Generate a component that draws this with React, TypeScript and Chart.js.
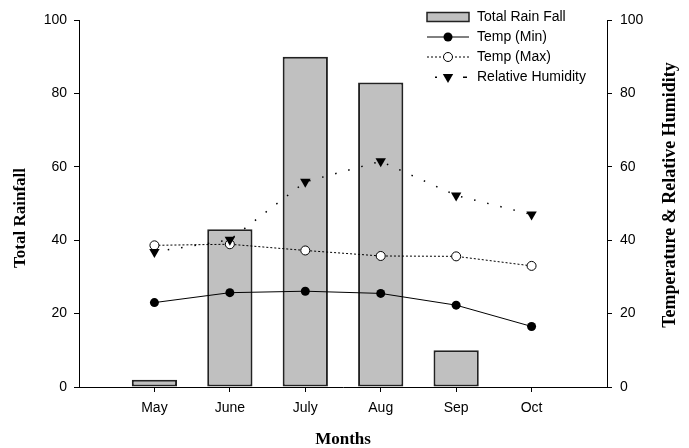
import React, { useEffect, useRef } from 'react';
import { Chart, registerables } from 'chart.js';

Chart.register(...registerables);

const months = ['May', 'June', 'July', 'Aug', 'Sep', 'Oct'];
const totalRainFall = [2, 43, 90, 83, 10, 0];
const tempMin = [23.0, 25.7, 26.1, 25.5, 22.3, 16.5];
const tempMax = [38.6, 38.9, 37.2, 35.7, 35.6, 33.0];
const relativeHumidity = [36.8, 40.1, 55.9, 61.5, 52.2, 47.0];
const legendLabels = ['Total Rain Fall', 'Temp (Min)', 'Temp (Max)', 'Relative Humidity'];
const xTitle = 'Months';
const yLeftTitle = 'Total Rainfall';
const yRightTitle = 'Temperature & Relative Humidity';

const SANS = "'Liberation Sans', Arial, sans-serif";
const SERIF = "'Liberation Serif', 'Times New Roman', serif";

const overlayPlugin = {
  id: 'overlay',
  afterDraw(chart: any) {
    const ctx = chart.ctx as CanvasRenderingContext2D;
    const area = chart.chartArea;
    ctx.save();
    // axis titles
    ctx.fillStyle = '#000';
    ctx.textAlign = 'center';
    ctx.textBaseline = 'middle';
    ctx.font = `bold 17px ${SERIF}`;
    ctx.fillText(xTitle, (area.left + area.right) / 2, 440);
    ctx.save();
    ctx.translate(21, 218);
    ctx.rotate(-Math.PI / 2);
    ctx.fillText(yLeftTitle, 0, 0);
    ctx.restore();
    ctx.save();
    ctx.font = `bold 18px ${SERIF}`;
    ctx.translate(670, 195);
    ctx.rotate(-Math.PI / 2);
    ctx.fillText(yRightTitle, 0, 0);
    ctx.restore();

    // legend
    const x0 = 427, x1 = 469, xm = 448, tx = 477;
    const rows = [17, 37, 57, 77];
    ctx.font = `14px ${SANS}`;
    ctx.textAlign = 'left';
    ctx.textBaseline = 'middle';
    legendLabels.forEach((l, i) => ctx.fillText(l, tx, rows[i]));

    // row 1: bar box
    ctx.fillStyle = '#c0c0c0';
    ctx.fillRect(x0, rows[0] - 4.5, x1 - x0, 9);
    ctx.strokeStyle = '#222';
    ctx.lineWidth = 1.5;
    ctx.strokeRect(x0, rows[0] - 4.5, x1 - x0, 9);

    // row 2: solid line + filled circle
    ctx.strokeStyle = '#000';
    ctx.lineWidth = 1;
    ctx.beginPath();
    ctx.moveTo(x0, rows[1]);
    ctx.lineTo(x1, rows[1]);
    ctx.stroke();
    ctx.fillStyle = '#000';
    ctx.beginPath();
    ctx.arc(xm, rows[1], 4.5, 0, Math.PI * 2);
    ctx.fill();

    // row 3: dotted line + open circle
    ctx.setLineDash([2, 2]);
    ctx.beginPath();
    ctx.moveTo(x0, rows[2]);
    ctx.lineTo(x1, rows[2]);
    ctx.stroke();
    ctx.setLineDash([]);
    ctx.fillStyle = '#fff';
    ctx.beginPath();
    ctx.arc(xm, rows[2], 4.5, 0, Math.PI * 2);
    ctx.fill();
    ctx.stroke();

    // row 4: sparse dots + triangle down
    ctx.fillStyle = '#000';
    ctx.fillRect(435, rows[3] - 0.5, 2, 1.5);
    ctx.fillRect(463, rows[3] - 0.5, 4, 1.5);
    const r = 6;
    ctx.beginPath();
    ctx.moveTo(xm, rows[3] + r);
    ctx.lineTo(xm - r * Math.sin(Math.PI / 3), rows[3] - r / 2);
    ctx.lineTo(xm + r * Math.sin(Math.PI / 3), rows[3] - r / 2);
    ctx.closePath();
    ctx.fill();
    ctx.restore();
  },
};

export default function App() {
  const ref = useRef<HTMLCanvasElement>(null);

  useEffect(() => {
    if (!ref.current) return;
    const labels = ['', ...months, ''];
    const pad = (a: number[]) => [null, ...a, null];
    const tickFont = { family: SANS, size: 14 };

    const chart = new Chart(ref.current, {
      type: 'bar',
      data: {
        labels,
        datasets: [
          {
            type: 'line',
            label: legendLabels[3],
            data: pad(relativeHumidity),
            yAxisID: 'y1',
            borderColor: '#000',
            borderWidth: 1.5,
            borderDash: [1.5, 12],
            pointStyle: 'triangle',
            pointRotation: 180,
            pointRadius: 6,
            pointBackgroundColor: '#000',
            pointBorderColor: '#000',
            pointBorderWidth: 0,
            tension: 0,
            order: 1,
          } as any,
          {
            type: 'line',
            label: legendLabels[2],
            data: pad(tempMax),
            yAxisID: 'y1',
            borderColor: '#000',
            borderWidth: 1,
            borderDash: [2, 2],
            pointStyle: 'circle',
            pointRadius: 4.5,
            pointBackgroundColor: '#fff',
            pointBorderColor: '#000',
            pointBorderWidth: 1,
            tension: 0,
            order: 2,
          } as any,
          {
            type: 'line',
            label: legendLabels[1],
            data: pad(tempMin),
            yAxisID: 'y1',
            borderColor: '#000',
            borderWidth: 1,
            pointStyle: 'circle',
            pointRadius: 4.5,
            pointBackgroundColor: '#000',
            pointBorderColor: '#000',
            pointBorderWidth: 0,
            tension: 0,
            order: 3,
          } as any,
          {
            type: 'bar',
            label: legendLabels[0],
            data: pad(totalRainFall),
            yAxisID: 'y',
            backgroundColor: '#c0c0c0',
            borderColor: '#222',
            borderWidth: (c: any) => (c.raw ? 2 : 0),
            borderSkipped: false,
            barPercentage: 0.6,
            categoryPercentage: 1,
            order: 10,
          } as any,
        ],
      },
      options: {
        responsive: false,
        animation: false,
        layout: { padding: { top: 20, left: 0, right: 0, bottom: 0 } },
        plugins: {
          legend: { display: false },
          tooltip: { enabled: false },
        },
        scales: {
          x: {
            type: 'category',
            offset: false,
            grid: {
              offset: false,
              drawOnChartArea: false,
              drawTicks: true,
              tickLength: 5,
              tickColor: (c: any) =>
                c.index === 0 || c.index === labels.length - 1 ? 'rgba(0,0,0,0)' : '#000',
            },
            border: { display: true, color: '#000', width: 1 },
            ticks: { font: tickFont, color: '#000', padding: 8, maxRotation: 0, autoSkip: false },
            afterFit: (s: any) => {
              s.height = 61;
            },
          },
          y: {
            position: 'left',
            min: 0,
            max: 100,
            ticks: { stepSize: 20, font: tickFont, color: '#000', padding: 7 },
            grid: { drawOnChartArea: false, tickLength: 5, tickColor: '#000' },
            border: { display: true, color: '#000', width: 1 },
            afterFit: (s: any) => {
              s.width = 79;
            },
          },
          y1: {
            position: 'right',
            min: 0,
            max: 100,
            ticks: { stepSize: 20, font: tickFont, color: '#000', padding: 8 },
            grid: { drawOnChartArea: false, tickLength: 5, tickColor: '#000' },
            border: { display: true, color: '#000', width: 1 },
            afterFit: (s: any) => {
              s.width = 82;
            },
          },
        },
      } as any,
      plugins: [overlayPlugin],
    });
    return () => chart.destroy();
  }, []);

  return (
    <div style={{ position: 'fixed', left: 0, top: 0, width: 689, height: 448, background: '#fff' }}>
      <canvas ref={ref} width={689} height={448} />
    </div>
  );
}
